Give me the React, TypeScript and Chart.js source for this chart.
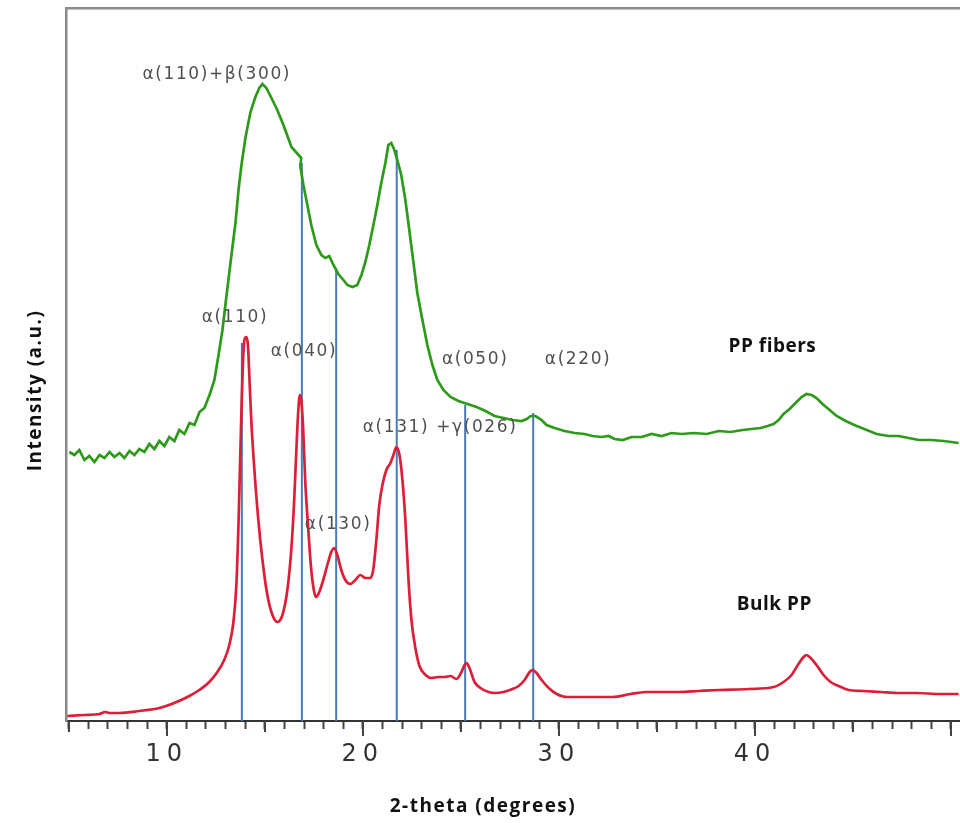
import React, { useEffect, useRef } from "react";
import { Chart, registerables } from "chart.js";

Chart.register(...registerables);

// ---- Data (2-theta in degrees, intensity in arbitrary units) ----
const bulkTheta = [
  4.93, 5.8, 6.57, 6.87, 7.07, 7.58, 8.6, 9.62, 10.38, 11.15, 11.66, 12.17, 12.58, 12.93, 13.19, 13.4,
  13.55, 13.65, 13.73, 13.81, 13.88, 13.96, 14.06, 14.14, 14.21, 14.31, 14.47, 14.67, 14.88, 15.13, 15.39, 15.64,
  15.9, 16.15, 16.35, 16.5, 16.61, 16.71, 16.79, 16.86, 16.96, 17.06, 17.22, 17.37, 17.52, 17.62, 17.78, 17.98,
  18.19, 18.39, 18.54, 18.7, 18.9, 19.11, 19.36, 19.62, 19.87, 20.13, 20.38, 20.53, 20.69, 20.84, 21.0, 21.2,
  21.41, 21.56, 21.71, 21.87, 22.02, 22.17, 22.33, 22.48, 22.68, 22.89, 23.2, 23.5, 23.86, 24.17, 24.47, 24.78,
  25.03, 25.19, 25.29, 25.44, 25.7, 26.0, 26.41, 26.72, 27.18, 27.64, 27.95, 28.25, 28.51, 28.66, 28.86, 29.12,
  29.48, 29.89, 30.4, 31.52, 32.74, 33.66, 34.58, 36.11, 37.13, 38.2, 39.68, 40.95, 41.46, 41.87, 42.22, 42.48,
  42.63, 42.84, 43.14, 43.5, 43.86, 44.27, 44.78, 45.54, 46.41, 47.33, 48.25, 49.37, 50.39
];
const bulkIntensity = [
  2, 3, 4, 6, 5, 5, 7, 10, 15, 22, 28, 36, 46, 58, 73, 96,
  133, 188, 248, 308, 353, 378, 381, 373, 343, 298, 248, 198, 158, 123, 103, 96,
  103, 128, 168, 218, 268, 308, 323, 318, 288, 238, 188, 148, 126, 121, 126, 138,
  153, 166, 170, 163, 148, 138, 134, 138, 143, 140, 140, 148, 178, 213, 233, 248,
  255, 263, 271, 263, 238, 198, 138, 98, 70, 52, 43, 40, 41, 41, 42, 39,
  46, 53, 55, 50, 36, 30, 26, 25, 26, 29, 32, 38, 46, 48, 45, 38,
  30, 24, 21, 21, 21, 24, 26, 26, 27, 28, 29, 31, 36, 43, 54, 61,
  63, 60, 53, 43, 36, 32, 28, 27, 26, 25, 25, 24, 24
];

const fiberTheta = [
  5.03, 5.29, 5.54, 5.8, 6.05, 6.31, 6.57, 6.82, 7.08, 7.33, 7.59, 7.84, 8.1, 8.35, 8.6, 8.86,
  9.11, 9.37, 9.62, 9.88, 10.13, 10.39, 10.64, 10.9, 11.16, 11.41, 11.67, 11.92, 12.18, 12.43, 12.64, 12.84,
  13.05, 13.3, 13.51, 13.66, 13.81, 14.01, 14.27, 14.52, 14.72, 14.88, 15.08, 15.34, 15.59, 15.85, 16.1, 16.36,
  16.86, 16.81, 16.97, 17.17, 17.37, 17.63, 17.89, 18.09, 18.29, 18.5, 18.75, 19.01, 19.21, 19.47, 19.72, 19.93,
  20.13, 20.33, 20.54, 20.74, 20.94, 21.15, 21.3, 21.45, 21.61, 21.76, 21.96, 22.17, 22.37, 22.58, 22.78, 23.04,
  23.29, 23.55, 23.8, 24.11, 24.47, 24.88, 25.34, 25.8, 26.26, 26.72, 27.18, 27.64, 28.1, 28.36, 28.56, 28.81,
  29.12, 29.37, 29.78, 30.29, 30.8, 31.31, 31.72, 32.18, 32.54, 32.84, 33.25, 33.71, 34.22, 34.73, 35.24, 35.75,
  36.26, 36.88, 37.54, 38.15, 38.76, 39.37, 39.83, 40.29, 40.65, 40.95, 41.21, 41.46, 41.77, 42.07, 42.38, 42.63,
  42.89, 43.14, 43.45, 43.81, 44.17, 44.63, 45.19, 45.7, 46.21, 46.82, 47.33, 47.84, 48.36, 48.97, 49.63, 50.39
];
const fiberIntensity = [
  266, 263, 268, 258, 262, 256, 263, 260, 266, 261, 265, 260, 267, 263, 269, 266,
  274, 269, 277, 272, 281, 277, 288, 284, 295, 293, 306, 310, 323, 338, 363, 388,
  423, 463, 496, 528, 553, 580, 606, 621, 630, 634, 630, 620, 610, 598, 585, 571,
  560, 552, 533, 513, 493, 473, 463, 460, 462, 453, 444, 438, 433, 431, 433, 443,
  456, 473, 493, 513, 535, 555, 573, 575, 568, 558, 543, 518, 488, 456, 425, 398,
  373, 353, 338, 328, 321, 317, 314, 311, 307, 302, 300, 298, 297, 299, 302, 302,
  298, 293, 290, 287, 285, 284, 282, 281, 282, 279, 278, 281, 281, 284, 282, 285,
  284, 285, 284, 287, 286, 288, 289, 290, 292, 294, 298, 304, 309, 315, 321, 324,
  323, 320, 314, 308, 302, 297, 292, 288, 284, 282, 282, 280, 278, 278, 277, 275
];

// Reflection marker lines (2-theta, height of line top)
const reflectionTheta = [13.83, 16.89, 18.64, 21.73, 25.22, 28.69];
const reflectionTop = [375, 555, 450, 568, 313, 305];

// Annotation labels
const peakLabels = ["α(110)+β(300)", "α(110)", "α(040)", "α(130)", "α(131) +γ(026)", "α(050)", "α(220)"];
const peakLabelTheta = [12.55, 13.48, 17.0, 18.74, 23.94, 25.73, 30.98];
const peakLabelY = [643, 400, 366, 193, 290, 358, 358];

const seriesNames = ["PP fibers", "Bulk PP"];
const seriesLabelTheta = [40.89, 40.99];
const seriesLabelY = [371, 113];

// Axis ticks and titles
const minorTicks = Array.from({ length: 46 }, (_, i) => 5 + i);
const labelledTicks = [10, 20, 30, 40];
const xTitle = "2-theta (degrees)";
const yTitle = "Intensity (a.u.)";

const X_MIN = 4.86;
const X_MAX = 50.46;
const Y_MIN = -3;
const Y_MAX = 710;

const GREEN = "rgb(45,155,25)";
const RED = "rgb(220,30,55)";
const BLUE = "rgb(74,122,188)";

export default function App() {
  const canvasRef = useRef<HTMLCanvasElement | null>(null);

  useEffect(() => {
    const canvas = canvasRef.current;
    if (!canvas) return;

    const toXY = (xs: number[], ys: number[]) => xs.map((x, i) => ({ x, y: ys[i] }));

    const refDatasets = reflectionTheta.map((t, i) => ({
      type: "line" as const,
      label: "ref" + i,
      data: [
        { x: t, y: Y_MIN },
        { x: t, y: reflectionTop[i] },
      ],
      borderColor: BLUE,
      borderWidth: 2,
      pointRadius: 0,
      tension: 0,
    }));

    const noSidePadding = (s: any) => {
      s.paddingLeft = 0;
      s.paddingRight = 0;
    };

    const textPlugin = {
      id: "xrdText",
      afterDatasetsDraw(chart: any) {
        chart.ctx.letterSpacing = "6px";
      },
      afterDraw(chart: any) {
        const ctx = chart.ctx as CanvasRenderingContext2D;
        (ctx as any).letterSpacing = "0px";
        const xs = chart.scales.x;
        const ys = chart.scales.y;
        const area = chart.chartArea;
        // longer tick marks at every 5 degrees
        ctx.save();
        ctx.strokeStyle = "#444";
        ctx.lineWidth = 2;
        minorTicks.forEach((v) => {
          if (v % 5 !== 0) return;
          const px = Math.round(xs.getPixelForValue(v));
          const len = v % 10 === 0 ? 15 : 11;
          ctx.beginPath();
          ctx.moveTo(px, area.bottom);
          ctx.lineTo(px, area.bottom + len);
          ctx.stroke();
        });
        ctx.restore();

        ctx.save();
        ctx.textAlign = "center";
        ctx.textBaseline = "middle";
        ctx.fillStyle = "#505050";
        ctx.font = "17px 'DejaVu Sans'";
        (ctx as any).letterSpacing = "1.6px";
        peakLabels.forEach((t, i) => {
          ctx.fillText(t, xs.getPixelForValue(peakLabelTheta[i]), ys.getPixelForValue(peakLabelY[i]));
        });
        ctx.fillStyle = "#111";
        ctx.font = "bold 19px 'Open Sans'";
        (ctx as any).letterSpacing = "0.5px";
        seriesNames.forEach((t, i) => {
          ctx.fillText(t, xs.getPixelForValue(seriesLabelTheta[i]), ys.getPixelForValue(seriesLabelY[i]));
        });
        // axis titles
        (ctx as any).letterSpacing = "1.5px";
        ctx.fillText(xTitle, 483, 807);
        ctx.translate(36, (area.top + area.bottom) / 2 + 26);
        ctx.rotate(-Math.PI / 2);
        ctx.fillText(yTitle, 0, 0);
        ctx.restore();
        (ctx as any).letterSpacing = "0px";
      },
    };

    const chart = new Chart(canvas, {
      type: "line",
      data: {
        datasets: [
          {
            label: "PP fibers",
            data: toXY(fiberTheta, fiberIntensity),
            borderColor: GREEN,
            borderWidth: 2.7,
            pointRadius: 0,
            tension: 0,
          },
          {
            label: "Bulk PP",
            data: toXY(bulkTheta, bulkIntensity),
            borderColor: RED,
            borderWidth: 2.7,
            pointRadius: 0,
            cubicInterpolationMode: "monotone",
          },
          ...refDatasets,
        ] as any,
      },
      options: {
        animation: false,
        responsive: true,
        maintainAspectRatio: false,
        parsing: false as any,
        layout: { padding: 0 },
        plugins: {
          legend: { display: false },
          tooltip: { enabled: false },
        },
        scales: {
          x: {
            type: "linear",
            position: "bottom",
            min: X_MIN,
            max: X_MAX,
            afterBuildTicks: (s: any) => {
              s.ticks = minorTicks.map((v) => ({ value: v }));
            },
            afterFit: (s: any) => {
              s.height = 102;
              noSidePadding(s);
            },
            grid: {
              display: true,
              drawOnChartArea: false,
              drawTicks: true,
              tickLength: 8,
              tickColor: "#444",
              tickWidth: 2,
            },
            border: { display: true, color: "#333", width: 2 },
            ticks: {
              autoSkip: false,
              maxRotation: 0,
              padding: 14,
              color: "#333",
              z: 1,
              font: { family: "'DejaVu Sans'", size: 24, lineHeight: 1 },
              callback: (v: any) => (labelledTicks.includes(Number(v)) ? String(v) : ""),
            },
            title: { display: false },
          },
          x2: {
            type: "linear",
            position: "top",
            min: X_MIN,
            max: X_MAX,
            afterFit: (s: any) => {
              s.height = 8;
              noSidePadding(s);
            },
            grid: { display: false, drawTicks: false },
            ticks: { display: false },
            border: { display: true, color: "#8a8a8a", width: 2.5 },
          },
          y: {
            type: "linear",
            min: Y_MIN,
            max: Y_MAX,
            afterFit: (s: any) => {
              s.width = 66;
            },
            grid: { display: false, drawTicks: false },
            ticks: { display: false },
            border: { display: true, color: "#8a8a8a", width: 2.5 },
            title: { display: false },
          },
        },
      },
      plugins: [textPlugin],
    });

    return () => {
      chart.destroy();
    };
  }, []);

  return (
    <div style={{ position: "absolute", left: 0, top: 0, width: 960, height: 823, background: "#fff" }}>
      <canvas ref={canvasRef} />
    </div>
  );
}
